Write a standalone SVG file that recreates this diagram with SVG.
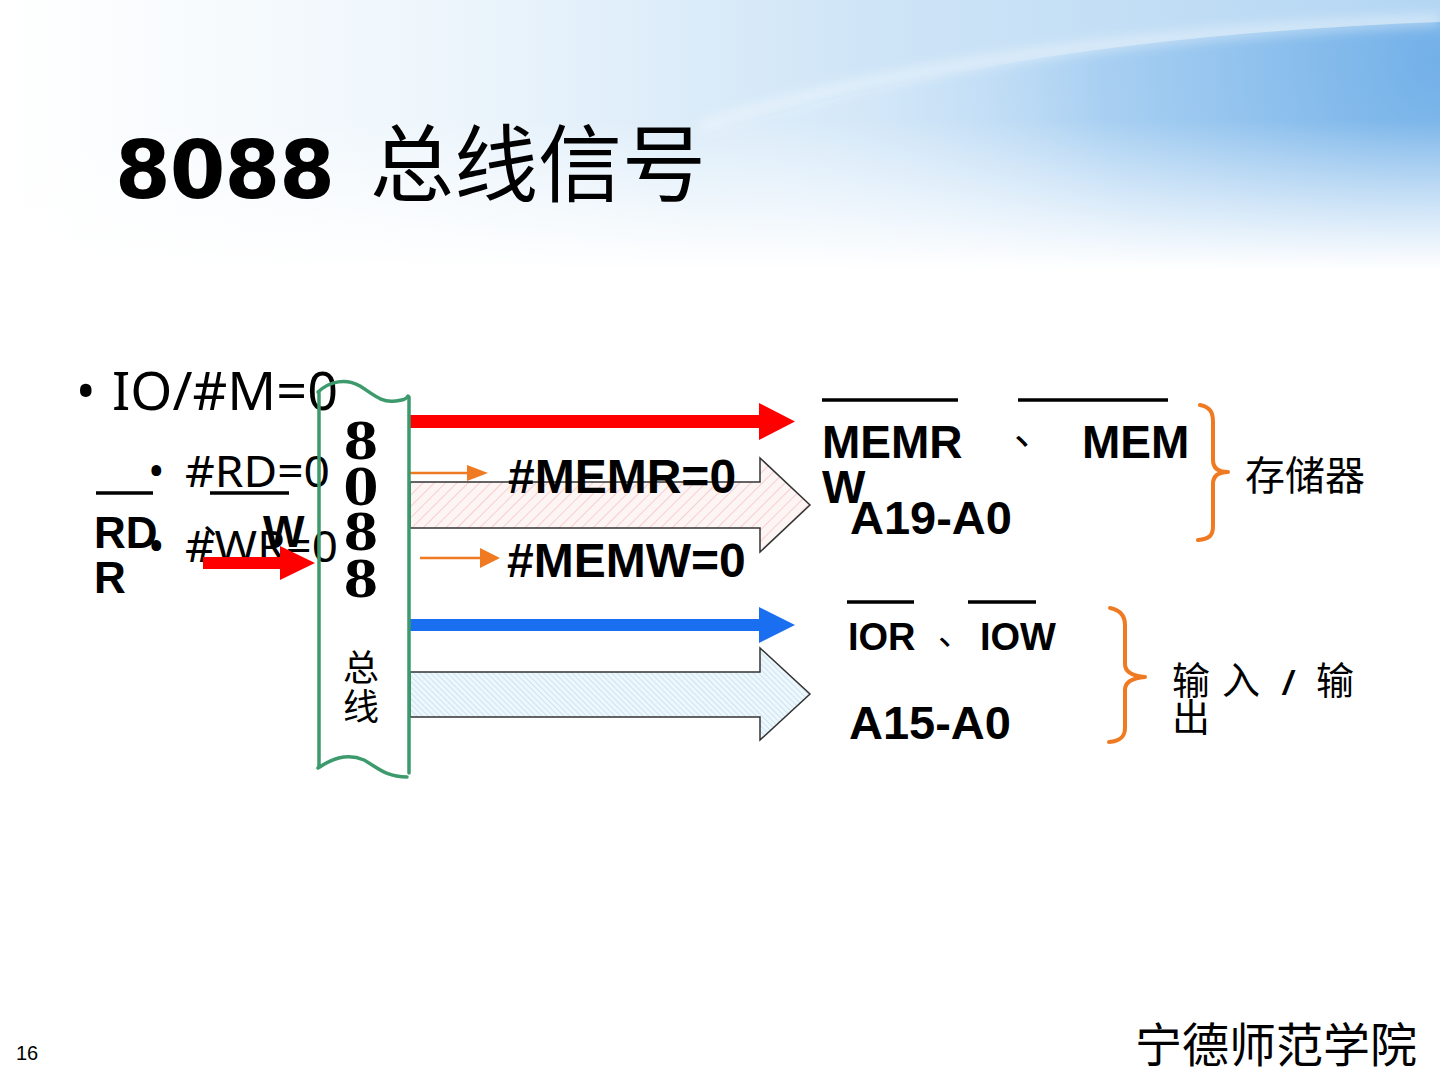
<svg xmlns="http://www.w3.org/2000/svg" width="1440" height="1080" viewBox="0 0 1440 1080">
<defs>
<linearGradient id="bgH" x1="0" y1="0" x2="1" y2="0">
<stop offset="0" stop-color="#ffffff"/>
<stop offset="0.3" stop-color="#eef6fc"/>
<stop offset="0.6" stop-color="#cfe5f7"/>
<stop offset="1" stop-color="#b4d6f3"/>
</linearGradient>
<radialGradient id="bgR" gradientUnits="userSpaceOnUse" cx="1440" cy="60" r="760">
<stop offset="0" stop-color="#72b0e8"/>
<stop offset="0.45" stop-color="#a9d0f2"/>
<stop offset="1" stop-color="#ffffff" stop-opacity="0"/>
</radialGradient>
<linearGradient id="bgV" x1="0" y1="0" x2="0" y2="1">
<stop offset="0" stop-color="#ffffff" stop-opacity="0"/>
<stop offset="1" stop-color="#ffffff" stop-opacity="1"/>
</linearGradient>
<filter id="blur" x="-10%" y="-50%" width="120%" height="200%"><feGaussianBlur stdDeviation="6"/></filter>
<pattern id="hatchRed" patternUnits="userSpaceOnUse" width="8" height="8" patternTransform="rotate(45)">
<rect width="8" height="8" fill="#fdf4f4"/>
<line x1="0" y1="0" x2="0" y2="8" stroke="#f2b0b0" stroke-width="1.1"/>
</pattern>
<pattern id="hatchBlue" patternUnits="userSpaceOnUse" width="4" height="4" patternTransform="rotate(-45)">
<rect width="4" height="4" fill="#eef7fc"/>
<line x1="0" y1="0" x2="0" y2="4" stroke="#a8d2ea" stroke-width="1"/>
</pattern>
<style>
.bul{font-family:"Noto Sans","Liberation Sans",sans-serif;fill:#000}
.b{font-family:"Liberation Sans",Arial,sans-serif;font-weight:bold;fill:#000}
.cjk{font-family:"Noto Sans CJK SC",sans-serif;fill:#000}
.ser{font-family:"DejaVu Serif","Liberation Serif",serif;font-weight:bold;fill:#000;text-anchor:middle}
.bar{stroke:#000;stroke-width:3.5}
.green{fill:none;stroke:#3c9a6c;stroke-width:3.5;stroke-linecap:round}
.brace{fill:none;stroke:#ef7a22;stroke-width:4;stroke-linecap:round;stroke-linejoin:round}
.orange{stroke:#ef7a22;stroke-width:2.5}
</style>
</defs>

<g id="background">
<rect x="0" y="0" width="1440" height="1080" fill="#ffffff"/>
<rect x="0" y="0" width="1440" height="270" fill="url(#bgH)"/>
<path d="M 640 160 Q 950 40 1440 22 L 1440 270 L 640 270 Z" fill="url(#bgR)"/>
<path d="M 700 128 Q 960 40 1440 20" fill="none" stroke="#ffffff" stroke-opacity="0.4" stroke-width="12" filter="url(#blur)"/>
<rect x="0" y="120" width="1440" height="150" fill="url(#bgV)"/>
</g>

<g id="title">
<text x="115" y="198" font-family="DejaVu Sans, sans-serif" font-weight="bold" font-size="80" textLength="220">8088</text>
<text x="370" y="195" class="cjk" font-size="84">总线信号</text>
</g>

<g id="bullets">
<text x="76" y="410" class="bul" font-size="52">•</text>
<text x="112" y="410" class="bul" font-size="52" textLength="226" lengthAdjust="spacingAndGlyphs">IO/#M=0</text>
<text x="148" y="487" class="bul" font-size="44">•</text>
<text x="185" y="487" class="bul" font-size="44" textLength="145" lengthAdjust="spacingAndGlyphs">#RD=0</text>
<text x="148" y="562" class="bul" font-size="44">•</text>
<text x="185" y="562" class="bul" font-size="44" textLength="153" lengthAdjust="spacingAndGlyphs">#WR=0</text>
</g>

<g id="rd-wr-label">
<line x1="96" y1="493" x2="153" y2="493" class="bar"/>
<line x1="210" y1="493" x2="289" y2="493" class="bar"/>
<text x="94" y="548" class="b" font-size="44">RD</text>
<text x="203" y="534" class="cjk" font-size="36">、</text>
<text x="263" y="547" class="b" font-size="44">W</text>
<text x="94" y="593" class="b" font-size="44">R</text>
</g>

<g id="connectors">
<polygon points="203,557 280,557 280,546 315,563 280,580 280,569 203,569" fill="#ff0000"/>
<polygon points="410,415 759,415 759,403 795,421.5 759,440 759,428 410,428" fill="#ff0000"/>
<polygon points="410,482 760,482 760,458 810,505 760,552 760,528 410,528" fill="url(#hatchRed)" stroke="#333" stroke-width="1.5"/>
<line x1="408" y1="473" x2="470" y2="473" class="orange"/>
<polygon points="467,465 488,473 467,481" fill="#ef7a22"/>
<line x1="420" y1="558" x2="482" y2="558" class="orange"/>
<polygon points="480,548 500,558 480,568" fill="#ef7a22"/>
<polygon points="410,619 759,619 759,607 795,625 759,643 759,631 410,631" fill="#1a6ff0"/>
<polygon points="410,672 760,672 760,648 810,694 760,740 760,717 410,717" fill="url(#hatchBlue)" stroke="#333" stroke-width="1.5"/>
</g>

<g id="bus">
<path class="green" d="M 319 393 L 319 767"/>
<path class="green" d="M 409 397 L 409 773"/>
<path class="green" d="M 318 392 C 330 381 346 378 360 386 C 374 395 382 403 395 401 C 402 400 406 400 408 396"/>
<path class="green" d="M 318 768 C 330 760 346 752 364 760 C 378 768 386 777 407 777"/>
<text x="361" y="459" class="ser" font-size="50">8</text>
<text x="361" y="505" class="ser" font-size="50">0</text>
<text x="361" y="550" class="ser" font-size="50">8</text>
<text x="361" y="597" class="ser" font-size="50">8</text>
<text x="361" y="681" class="cjk" font-size="36" text-anchor="middle">总</text>
<text x="361" y="720" class="cjk" font-size="36" text-anchor="middle">线</text>
</g>

<g id="memr-label">
<text x="508" y="493" class="b" font-size="48">#MEMR=0</text>
</g>
<g id="memw-label">
<text x="507" y="577" class="b" font-size="48">#MEMW=0</text>
</g>

<g id="memory-signals">
<line x1="822" y1="400" x2="958" y2="400" class="bar"/>
<line x1="1018" y1="400" x2="1168" y2="400" class="bar"/>
<text x="822" y="458" class="b" font-size="46">MEMR</text>
<text x="1014" y="444" class="cjk" font-size="40">、</text>
<text x="1082" y="458" class="b" font-size="46">MEM</text>
<text x="822" y="503" class="b" font-size="46">W</text>
<text x="850" y="534" class="b" font-size="47">A19-A0</text>
</g>

<g id="memory-brace">
<path class="brace" d="M 1200 405 C 1210 407 1213 412 1213 422 L 1213 460 C 1213 468 1218 472 1228 472 C 1218 472 1213 476 1213 484 L 1213 526 C 1213 535 1210 539 1198 540"/>
<text x="1245" y="490" class="cjk" font-size="40">存储器</text>
</g>

<g id="io-signals">
<line x1="847" y1="602" x2="914" y2="602" class="bar"/>
<line x1="968" y1="602" x2="1036" y2="602" class="bar"/>
<text x="848" y="650" class="b" font-size="38">IOR</text>
<text x="938" y="645" class="cjk" font-size="34">、</text>
<text x="980" y="650" class="b" font-size="38">IOW</text>
<text x="849" y="739" class="b" font-size="47">A15-A0</text>
</g>

<g id="io-brace">
<path class="brace" d="M 1110 608 C 1120 610 1125 615 1125 625 L 1125 664 C 1125 672 1132 676 1145 677 C 1132 678 1125 682 1125 690 L 1125 728 C 1125 737 1120 741 1109 742"/>
<text x="1172" y="694" class="cjk" font-size="38">输</text>
<text x="1222" y="694" class="cjk" font-size="38">入</text>
<text x="1283" y="694" class="b" font-size="34" font-style="italic">/</text>
<text x="1316" y="694" class="cjk" font-size="38">输</text>
<text x="1172" y="731" class="cjk" font-size="38">出</text>
</g>

<g id="footer">
<text x="16" y="1060" font-family="Liberation Sans, sans-serif" font-size="20" fill="#000">16</text>
<text x="1135" y="1062" class="cjk" font-size="47">宁德师范学院</text>
</g>
</svg>
